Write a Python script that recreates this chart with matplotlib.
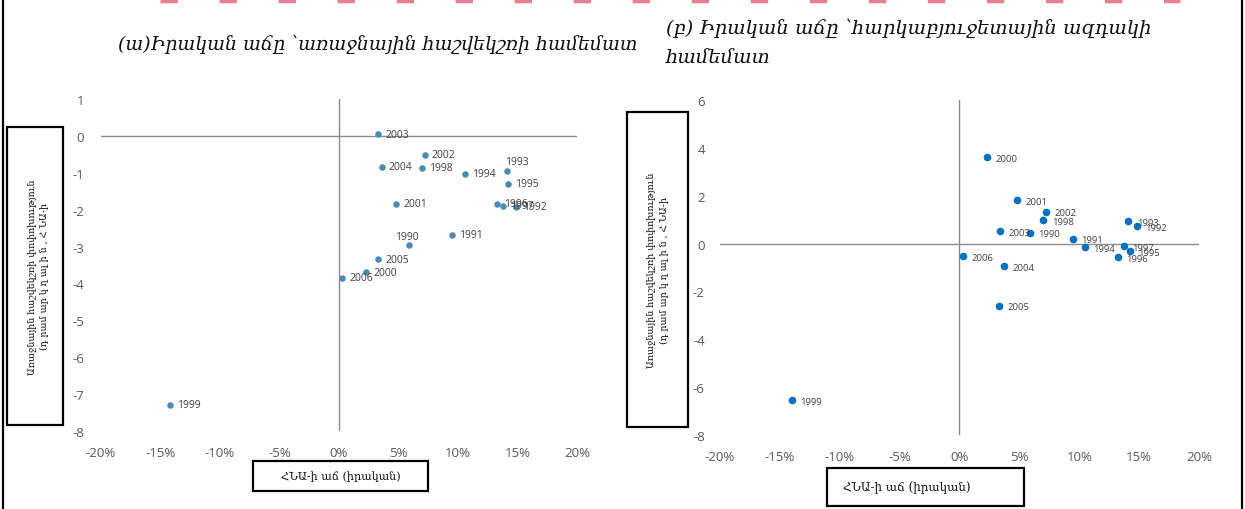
import matplotlib
matplotlib.use("Agg")
import matplotlib.pyplot as plt
from matplotlib.patches import Rectangle
from matplotlib.lines import Line2D
from matplotlib.ticker import FuncFormatter

plt.rcParams["axes.unicode_minus"] = False

# ---------------- data ----------------
years_a = ["2003", "2002", "2004", "1998", "1994", "1993", "1995", "2001", "1996",
           "1997", "1992", "1990", "1991", "2005", "2000", "2006", "1999"]
growth_a = [3.3, 7.2, 3.6, 7.0, 10.6, 14.1, 14.2, 4.8, 13.3, 13.8, 14.9, 5.9, 9.5,
            3.3, 2.3, 0.25, -14.2]
primary_a = [0.05, -0.51, -0.84, -0.87, -1.03, -0.95, -1.30, -1.84, -1.84, -1.90,
             -1.92, -2.96, -2.68, -3.34, -3.69, -3.85, -7.29]
# label offsets (pixels) for panel a
offs_a = {"1993": (-2, 9), "1990": (-14, 9)}

years_b = ["2000", "2001", "2002", "1998", "2003", "1990", "1991", "1994", "1993",
           "1992", "1997", "1995", "1996", "2006", "2004", "2005", "1999"]
growth_b = [2.3, 4.8, 7.2, 7.0, 3.4, 5.9, 9.5, 10.5, 14.1, 14.8, 13.7, 14.2, 13.2,
            0.33, 3.7, 3.3, -14.0]
impulse_b = [3.61, 1.81, 1.34, 0.99, 0.53, 0.46, 0.21, -0.14, 0.95, 0.74, -0.11,
             -0.31, -0.56, -0.53, -0.93, -2.59, -6.53]

xticks = [-20, -15, -10, -5, 0, 5, 10, 15, 20]
yticks_a = [1, 0, -1, -2, -3, -4, -5, -6, -7, -8]
yticks_b = [6, 4, 2, 0, -2, -4, -6, -8]

title_a = "(ա)Իրական աճը ՝առաջնային հաշվեկշռի համեմատ"
title_b = "(բ) Իրական աճը ՝հարկաբյուջետային ազդակի\nհամեմատ"
ylabel_txt = "Առաջնային հաշվեկշռի փոփոխություն\n(դ րամ ար կ ղ ալ ի ն , Հ ՆԱ-ի"
xlabel_txt = "ՀՆԱ-ի աճ (իրական)"

# ---------------- figure ----------------
W, H = 1245, 510
fig = plt.figure(figsize=(W / 100, H / 100), dpi=100)
fig.patch.set_facecolor("white")

def fx(px):
    return px / W

def fy(py):
    return 1 - py / H

tick_color = "#595959"
lab_color = "#404040"
pct = FuncFormatter(lambda v, p: f"{int(round(v))}%")

def setup(ax, yticks, ylim, ypad):
    ax.set_xlim(-20, 20)
    ax.set_ylim(*ylim)
    for s in ax.spines.values():
        s.set_visible(False)
    ax.axhline(0, color="#8c8c8c", lw=1, zorder=1)
    ax.axvline(0, color="#8c8c8c", lw=1, zorder=1)
    ax.set_xticks(xticks)
    ax.xaxis.set_major_formatter(pct)
    ax.set_yticks(yticks)
    ax.tick_params(axis="both", length=0, labelcolor=tick_color, labelsize=9.5)
    ax.tick_params(axis="x", pad=11)
    ax.tick_params(axis="y", pad=ypad)
    for t in ax.get_xticklabels() + ax.get_yticklabels():
        t.set_fontfamily("Open Sans")

# Panel a
axa = fig.add_axes([fx(101), fy(432), fx(577 - 101), (432 - 100) / H])
setup(axa, yticks_a, (-8, 1), 12)
axa.scatter(growth_a, primary_a, s=22, color="#4A8AB3", zorder=3, linewidths=0)
for yr, x, y in zip(years_a, growth_a, primary_a):
    dx, dy = offs_a.get(yr, (7, 0))
    axa.annotate(yr, (x, y), xytext=(dx * 0.72, dy * 0.72), textcoords="offset points",
                 fontsize=7.5, color=lab_color, va="center", ha="left",
                 family="Open Sans", zorder=4)

# Panel b
axb = fig.add_axes([fx(720), fy(436), fx(1199 - 720), (436 - 101) / H])
setup(axb, yticks_b, (-8, 6), 11)
axb.scatter(growth_b, impulse_b, s=30, color="#0070C0", zorder=3, linewidths=0)
for yr, x, y in zip(years_b, growth_b, impulse_b):
    axb.annotate(yr, (x, y), xytext=(6, -1), textcoords="offset points",
                 fontsize=6.8, color=lab_color, va="center", ha="left",
                 family="Open Sans", zorder=4)

# Titles
arm_serif = ["DejaVu Serif", "DejaVu Sans"]
fig.text(fx(118), fy(44), title_a, fontsize=13.6, style="italic", family=arm_serif,
         ha="left", va="center", color="#111111")
fig.text(fx(666), fy(19), title_b, fontsize=14, style="italic", family=arm_serif,
         ha="left", va="top", color="#111111", linespacing=1.85)

# Boxes with axis labels
def box(x0, y0, x1, y1, text, rot, size, cx=None):
    fig.add_artist(Rectangle((fx(x0), fy(y1)), fx(x1 - x0), (y1 - y0) / H,
                             transform=fig.transFigure, fill=True, facecolor="white",
                             edgecolor="black", lw=1.6, zorder=5))
    if cx is None:
        cx = (x0 + x1) / 2
    fig.text(fx(cx), fy((y0 + y1) / 2), text, rotation=rot, fontsize=size,
             family=arm_serif, ha="center", va="center", color="#111111",
             zorder=6, multialignment="center", linespacing=1.6)

box(7, 128, 63, 426, ylabel_txt, 90, 6.8, cx=38)
box(627, 113, 688, 428, ylabel_txt, 90, 6.8)
box(253, 462, 428, 492, xlabel_txt, 0, 8)
box(827, 469, 1024, 507, xlabel_txt, 0, 8.6, cx=907)

# Figure border lines
fig.add_artist(Line2D([fx(3), fx(3)], [0, 1], transform=fig.transFigure, color="black", lw=1.6))
fig.add_artist(Line2D([fx(1242), fx(1242)], [0, 1], transform=fig.transFigure, color="black", lw=1.6))
# cut-off red text remnants at top
fig.add_artist(Line2D([fx(160), fx(1180)], [fy(1.5), fy(1.5)], transform=fig.transFigure,
                      color="#E2536A", lw=2.5, alpha=0.75, dashes=(5, 12)))

fig.savefig("out.png", dpi=100, facecolor="white")
